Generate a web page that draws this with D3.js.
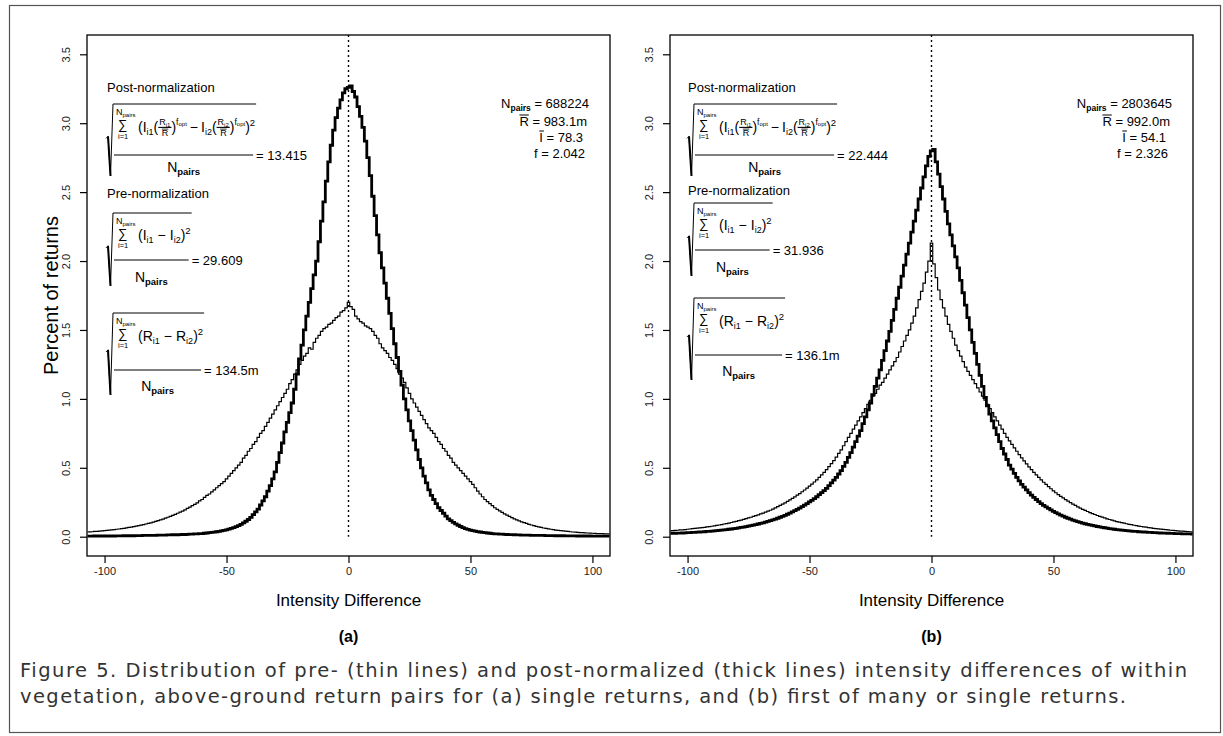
<!DOCTYPE html>
<html>
<head>
<meta charset="utf-8">
<script src="https://cdn.jsdelivr.net/npm/d3@7"></script>
<style>
  body { margin: 0; background: #fff; }
  svg { display: block; }
  text { white-space: pre; }
</style>
</head>
<body>
<div id="chart"></div>
<script>
// histogram bins are 1 unit wide, centred on -107 ... 107
var binStart = -107;

// panel (a) post-normalized (thick)
var postA = [
  0.004,0.004,0.004,0.005,0.004,0.005,0.005,0.005,
  0.005,0.005,0.006,0.005,0.006,0.006,0.006,0.007,0.006,0.007,
  0.007,0.007,0.008,0.008,0.008,0.009,0.009,0.009,0.010,0.010,
  0.010,0.011,0.011,0.012,0.012,0.013,0.013,0.014,0.014,0.014,
  0.015,0.016,0.016,0.017,0.018,0.019,0.020,0.021,0.022,
  0.023,0.025,0.027,0.029,0.031,0.033,0.036,0.039,0.042,0.046,
  0.050,0.055,0.060,0.066,0.073,0.081,0.090,0.100,0.112,0.125,
  0.14,0.16,0.18,0.20,0.23,0.26,0.29,0.33,0.37,0.42,
  0.47,0.54,0.61,0.68,0.76,0.83,0.90,0.97,1.07,1.18,
  1.29,1.39,1.50,1.60,1.70,1.80,1.90,2.00,2.14,2.29,
  2.43,2.58,2.72,2.84,2.95,3.04,3.11,3.17,3.22,3.25,
  3.26,
  3.27,3.23,3.19,3.12,3.05,2.97,2.87,2.75,2.62,2.47,
  2.33,2.19,2.06,1.95,1.84,1.73,1.62,1.51,1.40,1.30,
  1.20,1.10,1.00,0.92,0.84,0.77,0.70,0.63,0.56,0.50,
  0.44,0.39,0.34,0.30,0.27,0.24,0.21,0.19,0.17,0.15,
  0.13,0.117,0.104,0.093,0.083,0.074,0.066,0.059,0.053,0.048,
  0.044,0.040,0.037,0.034,0.031,0.029,0.027,0.025,0.023,0.021,
  0.020,0.019,0.018,0.017,0.016,0.015,0.015,0.014,0.013,0.013,
  0.012,0.012,0.011,0.011,0.010,0.010,0.010,0.009,0.009,0.009,
  0.008,0.008,0.008,0.008,0.007,0.007,0.007,0.007,0.006,0.006,
  0.006,0.006,0.006,0.005,0.005,0.005,0.005,0.005,0.005,0.004,0.004,0.004,0.004,0.004,0.004,0.004,0.004
];

// panel (a) pre-normalization (thin)
var preA = [
  0.034,0.035,0.036,0.038,0.039,0.041,0.042,
  0.044,0.046,0.048,0.050,0.052,0.054,0.056,0.059,0.061,0.064,
  0.067,0.070,0.073,0.077,0.080,0.084,0.088,0.092,0.096,0.101,
  0.106,0.111,0.116,0.122,0.128,0.135,0.141,0.148,0.155,0.162,
  0.170,0.178,0.186,0.195,0.205,0.215,0.225,0.235,0.245,0.260,
  0.270,0.285,0.300,0.310,0.325,0.340,0.355,0.370,0.385,0.400,
  0.42,0.44,0.46,0.48,0.50,0.52,0.54,0.57,0.59,0.62,
  0.64,0.67,0.69,0.72,0.75,0.77,0.80,0.83,0.86,0.89,
  0.92,0.95,0.98,1.01,1.04,1.07,1.11,1.14,1.18,1.21,
  1.25,1.28,1.31,1.33,1.37,1.36,1.41,1.44,1.46,1.49,
  1.51,1.52,1.54,1.55,1.57,1.59,1.60,1.63,1.64,1.66,
  1.70,
  1.67,1.65,1.60,1.58,1.56,1.55,1.53,1.52,1.51,1.49,
  1.46,1.44,1.40,1.37,1.35,1.33,1.30,1.28,1.25,1.22,
  1.18,1.15,1.12,1.08,1.04,1.00,0.97,0.94,0.91,0.88,
  0.85,0.82,0.79,0.77,0.75,0.72,0.69,0.67,0.64,0.62,
  0.59,0.57,0.54,0.52,0.50,0.48,0.46,0.44,0.42,0.40,
  0.38,0.355,0.33,0.31,0.29,0.27,0.255,0.24,0.225,0.21,
  0.198,0.187,0.176,0.166,0.156,0.147,0.138,0.130,0.122,0.115,
  0.108,0.102,0.096,0.090,0.085,0.080,0.075,0.071,0.067,0.063,
  0.060,0.057,0.054,0.051,0.048,0.046,0.044,0.042,0.040,0.038,
  0.036,0.034,0.033,0.031,0.030,0.029,0.028,0.027,0.026,0.025,
  0.024,0.023,0.022,0.022,0.021,0.020,0.020
];

// panel (b) post-normalized (thick)
var postB = [
  0.024,0.024,0.025,0.026,0.026,0.027,0.028,
  0.029,0.030,0.031,0.032,0.033,0.034,0.035,0.036,0.038,0.039,
  0.041,0.042,0.044,0.046,0.048,0.050,0.052,0.054,0.056,0.059,
  0.061,0.064,0.067,0.070,0.073,0.077,0.080,0.084,0.088,0.092,
  0.096,0.101,0.106,0.111,0.116,0.122,0.128,0.134,0.141,0.148,
  0.155,0.163,0.171,0.180,0.189,0.198,0.208,0.218,0.229,0.240,
  0.252,0.264,0.277,0.290,0.305,0.320,0.335,0.350,0.370,0.390,
  0.41,0.43,0.455,0.48,0.51,0.54,0.575,0.61,0.65,0.69,
  0.73,0.77,0.82,0.87,0.92,0.97,1.03,1.09,1.15,1.21,
  1.28,1.35,1.42,1.49,1.57,1.65,1.73,1.81,1.89,1.97,
  2.05,2.13,2.21,2.29,2.37,2.45,2.53,2.61,2.69,2.76,
  2.80,
  2.81,2.72,2.63,2.54,2.45,2.36,2.27,2.19,2.11,2.03,
  1.95,1.86,1.77,1.68,1.59,1.50,1.41,1.33,1.25,1.17,
  1.09,1.01,0.95,0.89,0.84,0.79,0.74,0.69,0.64,0.60,
  0.56,0.52,0.49,0.46,0.43,0.405,0.38,0.36,0.34,0.32,
  0.302,0.285,0.270,0.255,0.240,0.228,0.216,0.205,0.194,0.184,
  0.174,0.165,0.157,0.149,0.141,0.134,0.127,0.121,0.115,0.109,
  0.104,0.099,0.094,0.090,0.086,0.082,0.078,0.074,0.071,0.068,
  0.065,0.062,0.059,0.057,0.054,0.052,0.050,0.048,0.046,0.044,
  0.042,0.041,0.039,0.038,0.036,0.035,0.034,0.033,0.032,0.031,
  0.030,0.029,0.028,0.027,0.026,0.026,0.025,0.024,0.024,0.023,
  0.022,0.022,0.021,0.021,0.020,0.020,0.019
];

// panel (b) pre-normalization (thin)
var preB = [
  0.043,0.044,0.046,0.047,0.049,0.050,0.052,
  0.054,0.056,0.058,0.060,0.062,0.064,0.066,0.068,0.071,0.073,
  0.076,0.079,0.082,0.085,0.088,0.092,0.095,0.099,0.103,0.107,
  0.111,0.116,0.121,0.126,0.131,0.136,0.141,0.147,0.153,0.159,
  0.165,0.171,0.178,0.185,0.192,0.200,0.209,0.218,0.227,0.236,
  0.246,0.256,0.267,0.278,0.289,0.301,0.313,0.326,0.339,0.353,
  0.367,0.382,0.397,0.413,0.430,0.448,0.467,0.487,0.508,0.530,
  0.552,0.578,0.605,0.63,0.66,0.69,0.72,0.75,0.78,0.81,
  0.84,0.87,0.90,0.93,0.96,0.99,1.02,1.04,1.07,1.10,
  1.12,1.15,1.18,1.21,1.24,1.27,1.30,1.34,1.38,1.42,
  1.46,1.50,1.55,1.60,1.66,1.72,1.78,1.84,1.92,2.00,
  2.13,
  1.98,1.88,1.79,1.72,1.66,1.60,1.54,1.49,1.44,1.39,
  1.35,1.31,1.27,1.23,1.20,1.17,1.14,1.11,1.08,1.05,
  1.02,0.99,0.96,0.93,0.90,0.87,0.84,0.81,0.78,0.75,
  0.72,0.695,0.67,0.645,0.62,0.595,0.572,0.55,0.528,0.507,
  0.487,0.467,0.448,0.430,0.412,0.395,0.379,0.363,0.348,0.333,
  0.319,0.306,0.293,0.281,0.269,0.258,0.247,0.237,0.227,0.217,
  0.208,0.199,0.191,0.183,0.175,0.168,0.161,0.154,0.148,0.142,
  0.136,0.130,0.125,0.120,0.115,0.110,0.106,0.102,0.098,0.094,
  0.090,0.087,0.083,0.080,0.077,0.074,0.071,0.069,0.066,0.064,
  0.061,0.059,0.057,0.055,0.053,0.051,0.049,0.047,0.046,0.044,
  0.043,0.041,0.040,0.039,0.037,0.036,0.035
];

var xTicks = [-100, -50, 0, 50, 100];
var yTicks = [0, 0.5, 1, 1.5, 2, 2.5, 3, 3.5];

// per panel annotations
var panelNames = ["(a)", "(b)"];
var nPairs = ["688224", "2803645"];
var rBar = ["983.1m", "992.0m"];
var iBar = ["78.3", "54.1"];
var fVal = ["2.042", "2.326"];
var rmsPost = ["13.415", "22.444"];
var rmsPre = ["29.609", "31.936"];
var rmsRange = ["134.5m", "136.1m"];

var captionLines = [
  "Figure 5. Distribution of pre- (thin lines) and post-normalized (thick lines) intensity differences of within",
  "vegetation, above-ground return pairs for (a) single returns, and (b) first of many or single returns."
];

// layout
var svgWidth = 1223, svgHeight = 736;
var boxTop = 35, boxBottom = 556, boxW = 523;
var boxLeft = [87, 670];
var xDomain = [-107.2, 107.2];
var yDomain = [-0.14, 3.64];
var blockX = [113, 694];
var postTop = [104, 104], preTop = [213, 203], rangeTop = [313, 298];
var postLabelY = [92, 92], preLabelY = [198, 195];

var svg = d3.select("#chart")
  .append("svg")
  .attr("width", svgWidth)
  .attr("height", svgHeight)
  .style("font-family", "Liberation Sans, Arial, sans-serif");

svg.append("rect")
  .attr("x", 9.5).attr("y", 5.5)
  .attr("width", 1211).attr("height", 727)
  .attr("fill", "none").attr("stroke", "#555").attr("stroke-width", 1.2);

function putText(g, x, y, str, size, weight) {
  var t = g.append("text").attr("x", x).attr("y", y).attr("font-size", size).text(str);
  if (weight) t.attr("font-weight", weight);
  return t.node().getComputedTextLength();
}

// small R_ix / R-bar ratio used in the post-normalization numerator
function ratio(g, x, y, sub) {
  var w1 = putText(g, x + 1, y - 7, "R", 9);
  var w2 = putText(g, x + 1 + w1, y - 5.5, sub, 6);
  var w = w1 + w2 + 2;
  g.append("line").attr("x1", x).attr("x2", x + w).attr("y1", y - 4.6).attr("y2", y - 4.6)
    .attr("stroke", "#000").attr("stroke-width", 1.1);
  var cx = x + w / 2 - 3;
  var rw = putText(g, cx, y + 4, "R", 9);
  g.append("line").attr("x1", cx).attr("x2", cx + rw).attr("y1", y - 2.9).attr("y2", y - 2.9)
    .attr("stroke", "#000").attr("stroke-width", 0.8);
  return w;
}

function runSeq(g, x, y, parts) {
  parts.forEach(function(p) {
    if (p.rf) {
      x += ratio(g, x, y, p.rf);
    } else {
      x += putText(g, x, y + (p.dy || 0), p.t, p.s || 14) + (p.gap || 0);
    }
  });
  return x;
}

function formula(g, x0, y0, cfg, parts, value) {
  var nW = putText(g, x0 + 3, y0 + 11, "N", 9);
  putText(g, x0 + 3 + nW, y0 + 13, "pairs", 6);
  putText(g, x0 + 5, y0 + 25, "\u2211", 13);
  putText(g, x0 + 5, y0 + 34.5, "i=1", 7.5);

  var end = runSeq(g, x0 + 25, y0 + cfg.num, parts);
  var fracEnd = end - 2;
  var fy = y0 + cfg.frac;
  g.append("line").attr("x1", x0 + 1).attr("x2", fracEnd).attr("y1", fy).attr("y2", fy)
    .attr("stroke", "#000").attr("stroke-width", 1.1);

  // radical sign
  var bot = y0 + cfg.den + 4;
  var hookY = y0 + (cfg.den + 4) * 0.45;
  g.append("path")
    .attr("d", "M" + (x0 - 7) + "," + (hookY + 2) + "L" + (x0 - 5) + "," + hookY +
      "L" + (x0 - 2.5) + "," + bot + "L" + x0 + "," + y0 + "L" + (end + 1) + "," + y0)
    .attr("fill", "none").attr("stroke", "#000").attr("stroke-width", 1);
  g.append("line").attr("x1", x0 - 5).attr("y1", hookY).attr("x2", x0 - 2.5).attr("y2", bot)
    .attr("stroke", "#000").attr("stroke-width", 2);

  putText(g, fracEnd + 3, fy + 4.5, "= " + value, 13);

  var t = g.append("text").attr("x", (x0 + 1 + fracEnd) / 2).attr("y", y0 + cfg.den)
    .attr("text-anchor", "middle");
  t.append("tspan").attr("font-size", 14).text("N");
  t.append("tspan").attr("font-size", 9.5).attr("font-weight", "bold").attr("dy", 3).text("pairs");
}

var postParts = [
  {t: "(I"}, {t: "i1", s: 9, dy: 3}, {t: "("}, {rf: "i1"}, {t: ")"},
  {t: "f", s: 8.5, dy: -7.5}, {t: "opt", s: 6, dy: -6, gap: 3},
  {t: "\u2212", gap: 3}, {t: "I"}, {t: "i2", s: 9, dy: 3}, {t: "("}, {rf: "i2"}, {t: ")"},
  {t: "f", s: 8.5, dy: -7.5}, {t: "opt", s: 6, dy: -6}, {t: ")"}, {t: "2", s: 9.5, dy: -6.5}
];
var preParts = [
  {t: "(I"}, {t: "i1", s: 9, dy: 3, gap: 4}, {t: "\u2212", gap: 4}, {t: "I"},
  {t: "i2", s: 9, dy: 3}, {t: ")"}, {t: "2", s: 9.5, dy: -6.5}
];
var rangeParts = [
  {t: "(R"}, {t: "i1", s: 9, dy: 3, gap: 4}, {t: "\u2212", gap: 4}, {t: "R"},
  {t: "i2", s: 9, dy: 3}, {t: ")"}, {t: "2", s: 9.5, dy: -6.5}
];

// right-aligned statistic line; returns the x where the line starts
function statLine(g, xRight, y, parts) {
  var t = g.append("text").attr("x", 0).attr("y", y).attr("font-size", 13);
  parts.forEach(function(p) {
    var s = t.append("tspan").text(p.t);
    if (p.s) s.attr("font-size", p.s);
    if (p.w) s.attr("font-weight", p.w);
    if (p.dy) s.attr("dy", p.dy);
  });
  var len = t.node().getComputedTextLength();
  t.attr("x", xRight - len);
  return {x: xRight - len, node: t.node()};
}

function overbar(g, x, y, w) {
  g.append("line").attr("x1", x).attr("x2", x + w).attr("y1", y).attr("y2", y)
    .attr("stroke", "#000").attr("stroke-width", 1);
}

var posts = [postA, postB], pres = [preA, preB];

boxLeft.forEach(function(left, k) {
  var x = d3.scaleLinear().domain(xDomain).range([left, left + boxW]);
  var y = d3.scaleLinear().domain(yDomain).range([boxBottom, boxTop]);
  var g = svg.append("g");

  svg.append("clipPath").attr("id", "clip" + k)
    .append("rect").attr("x", left).attr("y", boxTop)
    .attr("width", boxW).attr("height", boxBottom - boxTop);

  var line = d3.line()
    .x(function(d, i) { return x(binStart + i); })
    .y(function(d) { return y(d); })
    .curve(d3.curveStep);

  g.append("line")
    .attr("x1", x(0)).attr("x2", x(0)).attr("y1", boxTop).attr("y2", y(0))
    .attr("stroke", "#000").attr("stroke-width", 1.4).attr("stroke-dasharray", "2,3");

  g.append("path").datum(pres[k])
    .attr("clip-path", "url(#clip" + k + ")")
    .attr("d", line).attr("fill", "none").attr("stroke", "#000").attr("stroke-width", 1.2);
  g.append("path").datum(posts[k])
    .attr("clip-path", "url(#clip" + k + ")")
    .attr("d", line).attr("fill", "none").attr("stroke", "#000").attr("stroke-width", 2.8)
    .attr("stroke-linejoin", "miter");

  g.append("rect")
    .attr("x", left).attr("y", boxTop).attr("width", boxW).attr("height", boxBottom - boxTop)
    .attr("fill", "none").attr("stroke", "#000").attr("stroke-width", 1.3);

  // axes
  var bottomAxis = d3.axisBottom(x).tickValues(xTicks).tickSize(7).tickPadding(4)
    .tickFormat(function(d) { return String(d); });
  g.append("g").attr("transform", "translate(0," + boxBottom + ")").call(bottomAxis)
    .call(function(a) { a.select(".domain").remove(); })
    .call(function(a) {
      a.selectAll("text").attr("font-size", 11).attr("font-family", "Liberation Sans, Arial, sans-serif").attr("fill", "#222");
      a.selectAll("line").attr("stroke-width", 1.2);
    });

  var leftAxis = d3.axisLeft(y).tickValues(yTicks).tickSize(7).tickFormat(d3.format(".1f"));
  g.append("g").attr("transform", "translate(" + left + ",0)").call(leftAxis)
    .call(function(a) { a.select(".domain").remove(); })
    .call(function(a) {
      a.selectAll("line").attr("stroke-width", 1.2);
      a.selectAll("text")
        .attr("transform", "rotate(-90)")
        .attr("x", 0).attr("y", -17).attr("dy", null)
        .attr("text-anchor", "middle")
        .attr("font-size", 11).attr("font-family", "Liberation Sans, Arial, sans-serif").attr("fill", "#222");
    });

  // axis title and panel name
  g.append("text").attr("x", left + boxW / 2).attr("y", 606)
    .attr("text-anchor", "middle").attr("font-size", 17).text("Intensity Difference");
  g.append("text").attr("x", left + boxW / 2).attr("y", 642)
    .attr("text-anchor", "middle").attr("font-size", 16).attr("font-weight", "bold").text(panelNames[k]);

  // formulas
  var bx = blockX[k];
  putText(g, bx - 6, postLabelY[k], "Post-normalization", 13);
  formula(g, bx, postTop[k], {num: 28, frac: 51, den: 68}, postParts, rmsPost[k]);
  putText(g, bx - 6, preLabelY[k], "Pre-normalization", 13);
  formula(g, bx, preTop[k], {num: 27, frac: 47, den: 69}, preParts, rmsPre[k]);
  formula(g, bx, rangeTop[k], {num: 28, frac: 57, den: 78}, rangeParts, rmsRange[k]);

  // summary statistics at the top right
  var right = left + boxW;
  statLine(g, right - 21, 108, [{t: "N"}, {t: "pairs", s: 8.5, w: "bold", dy: 3}, {t: " = " + nPairs[k], dy: -3}]);
  var r2 = statLine(g, right - 23, 126, [{t: "R = " + rBar[k]}]);
  overbar(g, r2.x, 115, r2.node.getSubStringLength(0, 1));
  var r3 = statLine(g, right - 27, 142, [{t: "I = " + iBar[k]}]);
  overbar(g, r3.x, 131, r3.node.getSubStringLength(0, 1) + 1);
  statLine(g, right - 25, 158, [{t: "f = " + fVal[k]}]);
});

svg.append("text")
  .attr("transform", "translate(58," + ((boxTop + boxBottom) / 2) + ") rotate(-90)")
  .attr("text-anchor", "middle").attr("font-size", 20).text("Percent of returns");

// caption: slightly tracked, first line justified to the full width
var capFont = "DejaVu Sans, Verdana, sans-serif";
svg.append("text").attr("x", 20).attr("y", 677)
  .attr("font-family", capFont).attr("font-size", 19.5).attr("fill", "#333")
  .attr("textLength", 1167).attr("lengthAdjust", "spacing").text(captionLines[0]);
svg.append("text").attr("x", 20).attr("y", 703)
  .attr("font-family", capFont).attr("font-size", 19.5).attr("fill", "#333")
  .attr("textLength", 1106).attr("lengthAdjust", "spacing").text(captionLines[1]);
</script>
</body>
</html>
